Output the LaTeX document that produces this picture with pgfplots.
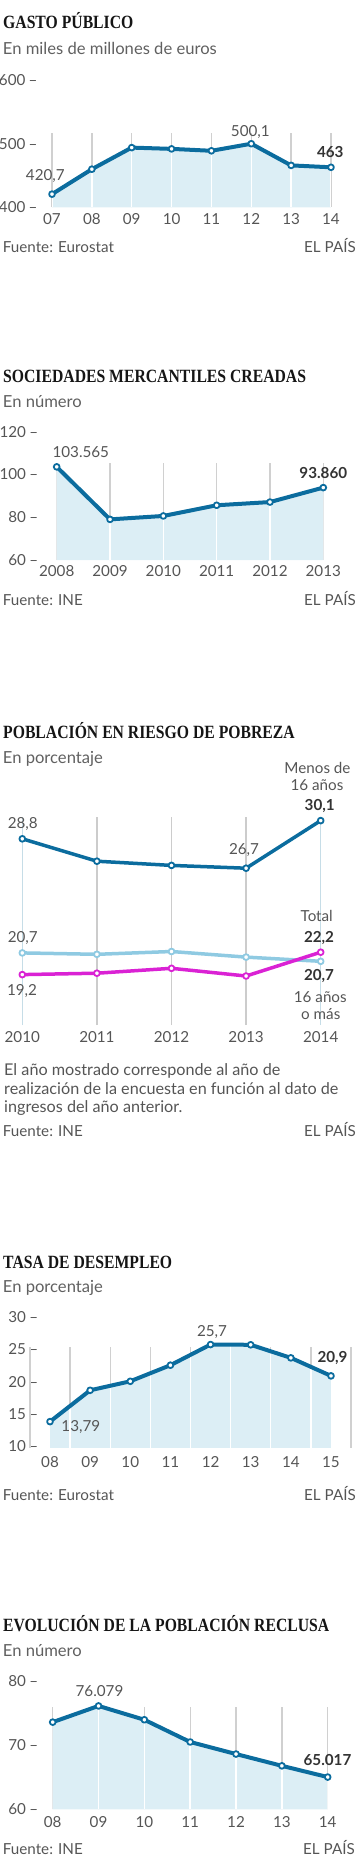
\documentclass[border=0pt]{standalone}
\usepackage{fontspec}
\setmainfont{Lato}
\newfontfamily\titlefont[FakeStretch=0.84]{Liberation Serif}
\usepackage{pgfplots}
\pgfplotsset{compat=1.18}

\definecolor{lineblue}{HTML}{0B6C9E}
\definecolor{fillblue}{HTML}{DCEEF5}
\definecolor{gridgray}{HTML}{D0D0D0}
\definecolor{lightline}{HTML}{8FCAE2}
\definecolor{pinkline}{HTML}{DA22D4}
\definecolor{txt}{HTML}{555555}
\definecolor{subc}{HTML}{606060}
\definecolor{txtdark}{HTML}{333333}
\definecolor{titlec}{HTML}{151515}
\definecolor{gridblue}{HTML}{C6DDE7}
\definecolor{gridgraythree}{HTML}{CCCCCC}

\newcommand\fs[1]{\fontsize{#1bp}{#1bp}\selectfont}

% white vertical lines clipped to the fill area (basic layer)
% #1 = number of intervals, #2 = offset (0 or 0.5), #3 = last index
\newcommand\whitelines[3]{%
  \pgfsetlinewidth{1.4bp}\pgfsetstrokecolor{white}%
  \foreach \k in {0,...,#3}{%
    \pgfmathsetmacro\tt{(\k+#2)/#1}%
    \pgfpathmoveto{\pgfpointlineattime{\tt}{\pgfpointanchor{path picture bounding box}{south west}}{\pgfpointanchor{path picture bounding box}{south east}}}%
    \pgfpathlineto{\pgfpointadd{\pgfpointlineattime{\tt}{\pgfpointanchor{path picture bounding box}{south west}}{\pgfpointanchor{path picture bounding box}{south east}}}{\pgfpoint{0pt}{300pt}}}%
    \pgfusepath{stroke}%
  }%
}

\pgfplotsset{
  panel/.style={scale only axis, clip=false, anchor=south west,
    axis line style={draw=none}, major tick length=0pt, tick style={draw=none},
    tick label style={font=\fs{15.2}, text=txt, inner sep=0pt},
    xticklabel style={anchor=base},
    yticklabel style={anchor=east}},
  dataline/.style={#1, line width=4bp, line join=round, mark=*, mark size=2.9bp,
    mark options={fill=white, draw=#1, line width=1.8bp, solid}},
  grid lines/.style={gridgray, line width=1.3bp, unbounded coords=jump, mark=none},
}
\tikzset{
  title/.style={anchor=base west, inner sep=0pt, font=\titlefont\bfseries\fs{18.7}, text=titlec},
  sub/.style={anchor=base west, inner sep=0pt, font=\fs{16.6}, text=subc},
  lab/.style={anchor=base, inner sep=0pt, font=\fs{15.2}, text=txt},
  blab/.style={anchor=base, inner sep=0pt, font=\bfseries\fs{15.2}, text=txtdark},
  src/.style={anchor=base west, inner sep=0pt, font=\fs{15.2}, text=txt},
  srcr/.style={anchor=base east, inner sep=0pt, font=\fs{15.2}, text=txt},
  note/.style={anchor=base west, inner sep=0pt, font=\fs{16.2}, text=txt},
}

\begin{document}
\begin{tikzpicture}

% ---------------- Panel 1: Gasto publico ----------------
\node[title] at (3bp,-28.3bp) {GASTO PÚBLICO};
\node[sub] at (2.7bp,-54bp) {En miles de millones de euros};
\begin{axis}[panel, at={(52bp,-207.3bp)}, width=279bp, height=127bp,
  xmin=7, xmax=14, ymin=400, ymax=600,
  xtick={7,8,9,10,11,12,13,14}, xticklabels={07,08,09,10,11,12,13,14},
  ytick={400,500,600}, yticklabels={400\hspace{3.3bp}–,500\hspace{3.3bp}–,600\hspace{3.3bp}–},
  xticklabel style={yshift=-16.7bp}, yticklabel style={xshift=-14.3bp}]
\addplot[grid lines] coordinates {(7,400)(7,516.5)(7,nan)(8,400)(8,516.5)(8,nan)(9,400)(9,516.5)(9,nan)(10,400)(10,516.5)(10,nan)(11,400)(11,516.5)(11,nan)(12,400)(12,516.5)(12,nan)(13,400)(13,516.5)(13,nan)(14,400)(14,516.5)};
\addplot[fill=fillblue, draw=none, mark=none, path picture={\whitelines{7}{0}{7}}]
  coordinates {(7,400)(7,420.7)(8,460)(9,494)(10,492)(11,489)(12,500.1)(13,466)(14,463)(14,400)};
\addplot[dataline=lineblue] coordinates {(7,420.7)(8,460)(9,494)(10,492)(11,489)(12,500.1)(13,466)(14,463)};
\end{axis}
\node[lab] at (45.3bp,-180bp) {420,7};
\node[lab] at (250.3bp,-136.7bp) {500,1};
\node[blab] at (330.3bp,-157.3bp) {463};
\node[src] at (2.7bp,-252bp) {Fuente: Eurostat};
\node[srcr] at (356bp,-252bp) {EL PAÍS};

% ---------------- Panel 2: Sociedades ----------------
\node[title] at (3bp,-382bp) {SOCIEDADES MERCANTILES CREADAS};
\node[sub] at (2.7bp,-407.3bp) {En número};
\begin{axis}[panel, at={(56.7bp,-560bp)}, width=266.6bp, height=128.3bp,
  xmin=2008, xmax=2013, ymin=60, ymax=120,
  xtick={2008,2009,2010,2011,2012,2013}, xticklabels={2008,2009,2010,2011,2012,2013},
  ytick={60,80,100,120}, yticklabels={60\hspace{3.3bp}–,80\hspace{3.3bp}–,100\hspace{3.3bp}–,120\hspace{3.3bp}–},
  xticklabel style={yshift=-16bp}, yticklabel style={xshift=-18.4bp}]
\addplot[grid lines] coordinates {(2008,60)(2008,105.2)(2008,nan)(2009,60)(2009,105.2)(2009,nan)(2010,60)(2010,105.2)(2010,nan)(2011,60)(2011,105.2)(2011,nan)(2012,60)(2012,105.2)(2012,nan)(2013,60)(2013,105.2)};
\addplot[fill=fillblue, draw=none, mark=none, path picture={\whitelines{5}{0}{5}}]
  coordinates {(2008,60)(2008,103.565)(2009,79.0)(2010,80.6)(2011,85.6)(2012,87.1)(2013,93.86)(2013,60)};
\addplot[dataline=lineblue] coordinates {(2008,103.565)(2009,79.0)(2010,80.6)(2011,85.6)(2012,87.1)(2013,93.86)};
\end{axis}
\node[lab] at (80.8bp,-457.3bp) {103.565};
\node[blab] at (323.3bp,-478.7bp) {93.860};
\node[src] at (2.7bp,-605bp) {Fuente: INE};
\node[srcr] at (356bp,-605bp) {EL PAÍS};

% ---------------- Panel 3: Pobreza ----------------
\node[title] at (3bp,-738.3bp) {POBLACIÓN EN RIESGO DE POBREZA};
\node[sub] at (2.7bp,-763.3bp) {En porcentaje};
\begin{axis}[panel, at={(22.3bp,-1025bp)}, width=298.4bp, height=207.9bp,
  xmin=2010, xmax=2014, ymin=15.5, ymax=30.35,
  xtick={2010,2011,2012,2013,2014}, xticklabels={2010,2011,2012,2013,2014},
  ytick=\empty,
  xticklabel style={yshift=-17.7bp}]
\addplot[grid lines, gridblue] coordinates {(2010,15.5)(2010,30.35)(2010,nan)(2014,15.5)(2014,30.35)};
\addplot[grid lines, gridgraythree] coordinates {(2011,15.5)(2011,30.35)(2011,nan)(2012,15.5)(2012,30.35)(2012,nan)(2013,15.5)(2013,30.35)};
\addplot[dataline=lightline, line width=3.5bp] coordinates {(2010,20.65)(2011,20.55)(2012,20.75)(2013,20.35)(2014,20.05)};
\addplot[dataline=pinkline, line width=3.5bp] coordinates {(2010,19.1)(2011,19.2)(2012,19.55)(2013,19.0)(2014,20.7)};
\addplot[dataline=lineblue, line width=3.5bp] coordinates {(2010,28.8)(2011,27.2)(2012,26.9)(2013,26.7)(2014,30.1)};
\end{axis}
\node[lab] at (317.5bp,-773.3bp) {Menos de};
\node[lab] at (317bp,-790bp) {16 años};
\node[blab] at (319.7bp,-810.7bp) {30,1};
\node[lab] at (22.7bp,-828.3bp) {28,8};
\node[lab] at (244bp,-854bp) {26,7};
\node[lab] at (22.7bp,-942.3bp) {20,7};
\node[lab] at (22bp,-995bp) {19,2};
\node[lab] at (316.7bp,-921.7bp) {Total};
\node[blab] at (319bp,-942.3bp) {22,2};
\node[blab] at (319bp,-980bp) {20,7};
\node[lab] at (320.3bp,-1002.3bp) {16 años};
\node[lab] at (320.8bp,-1019bp) {o más};
\node[note] at (4bp,-1075bp) {El año mostrado corresponde al año de};
\node[note] at (4bp,-1094bp) {realización de la encuesta en función al dato de};
\node[note] at (4bp,-1112.7bp) {ingresos del año anterior.};
\node[src] at (2.7bp,-1136.7bp) {Fuente: INE};
\node[srcr] at (356bp,-1136.7bp) {EL PAÍS};

% ---------------- Panel 4: Desempleo ----------------
\node[title] at (3bp,-1268.3bp) {TASA DE DESEMPLEO};
\node[sub] at (2.7bp,-1292.7bp) {En porcentaje};
\begin{axis}[panel, at={(50bp,-1446bp)}, width=281bp, height=128.7bp,
  xmin=8, xmax=15, ymin=10, ymax=30,
  xtick={8,9,10,11,12,13,14,15}, xticklabels={08,09,10,11,12,13,14,15},
  ytick={10,15,20,25,30}, yticklabels={10\hspace{3.3bp}–,15\hspace{3.3bp}–,20\hspace{3.3bp}–,25\hspace{3.3bp}–,30\hspace{3.3bp}–},
  xticklabel style={yshift=-21.3bp}, yticklabel style={xshift=-11.7bp}]
\addplot[grid lines] coordinates {(7.5,9.7)(7.5,25.4)(7.5,nan)(8.5,9.7)(8.5,25.4)(8.5,nan)(9.5,9.7)(9.5,25.4)(9.5,nan)(10.5,9.7)(10.5,25.4)(10.5,nan)(11.5,9.7)(11.5,25.4)(11.5,nan)(12.5,9.7)(12.5,25.4)(12.5,nan)(13.5,9.7)(13.5,25.4)(13.5,nan)(14.5,9.7)(14.5,25.4)(14.5,nan)(15.5,9.7)(15.5,25.4)};
\addplot[fill=fillblue, draw=none, mark=none, path picture={\whitelines{7}{0.5}{6}}]
  coordinates {(8,9.7)(8,13.79)(9,18.66)(10,20.06)(11,22.56)(12,25.77)(13,25.73)(14,23.70)(15,20.9)(15,9.7)};
\addplot[dataline=lineblue] coordinates {(8,13.79)(9,18.66)(10,20.06)(11,22.56)(12,25.77)(13,25.73)(14,23.70)(15,20.9)};
\end{axis}
\node[lab] at (212bp,-1336.7bp) {25,7};
\node[lab] at (80.8bp,-1431bp) {13,79};
\node[blab] at (332.5bp,-1362.7bp) {20,9};
\node[src] at (2.7bp,-1500bp) {Fuente: Eurostat};
\node[srcr] at (356bp,-1500bp) {EL PAÍS};

% ---------------- Panel 5: Poblacion reclusa ----------------
\node[title] at (3bp,-1631.7bp) {EVOLUCIÓN DE LA POBLACIÓN RECLUSA};
\node[sub] at (2.7bp,-1656.7bp) {En número};
\begin{axis}[panel, at={(52.7bp,-1809.3bp)}, width=275bp, height=128.6bp,
  xmin=8, xmax=14, ymin=60, ymax=80,
  xtick={8,9,10,11,12,13,14}, xticklabels={08,09,10,11,12,13,14},
  ytick={60,70,80}, yticklabels={60\hspace{3.3bp}–,70\hspace{3.3bp}–,80\hspace{3.3bp}–},
  xticklabel style={yshift=-18bp}, yticklabel style={xshift=-14.4bp}]
\addplot[grid lines] coordinates {(8,60)(8,75.9)(8,nan)(9,60)(9,75.9)(9,nan)(10,60)(10,75.9)(10,nan)(11,60)(11,75.9)(11,nan)(12,60)(12,75.9)(12,nan)(13,60)(13,75.9)(13,nan)(14,60)(14,75.9)};
\addplot[fill=fillblue, draw=none, mark=none, path picture={\whitelines{6}{0}{6}}]
  coordinates {(8,60)(8,73.558)(9,76.079)(10,73.929)(11,70.472)(12,68.597)(13,66.765)(14,65.017)(14,60)};
\addplot[dataline=lineblue] coordinates {(8,73.558)(9,76.079)(10,73.929)(11,70.472)(12,68.597)(13,66.765)(14,65.017)};
\end{axis}
\node[lab] at (99.5bp,-1696.7bp) {76.079};
\node[blab] at (327.5bp,-1765bp) {65.017};
\node[src] at (2.7bp,-1854bp) {Fuente: INE};
\node[srcr] at (355bp,-1854bp) {EL PAÍS};

\pgfresetboundingbox
\path[use as bounding box] (0,0) rectangle (360bp,-1866bp);
\end{tikzpicture}
\end{document}
